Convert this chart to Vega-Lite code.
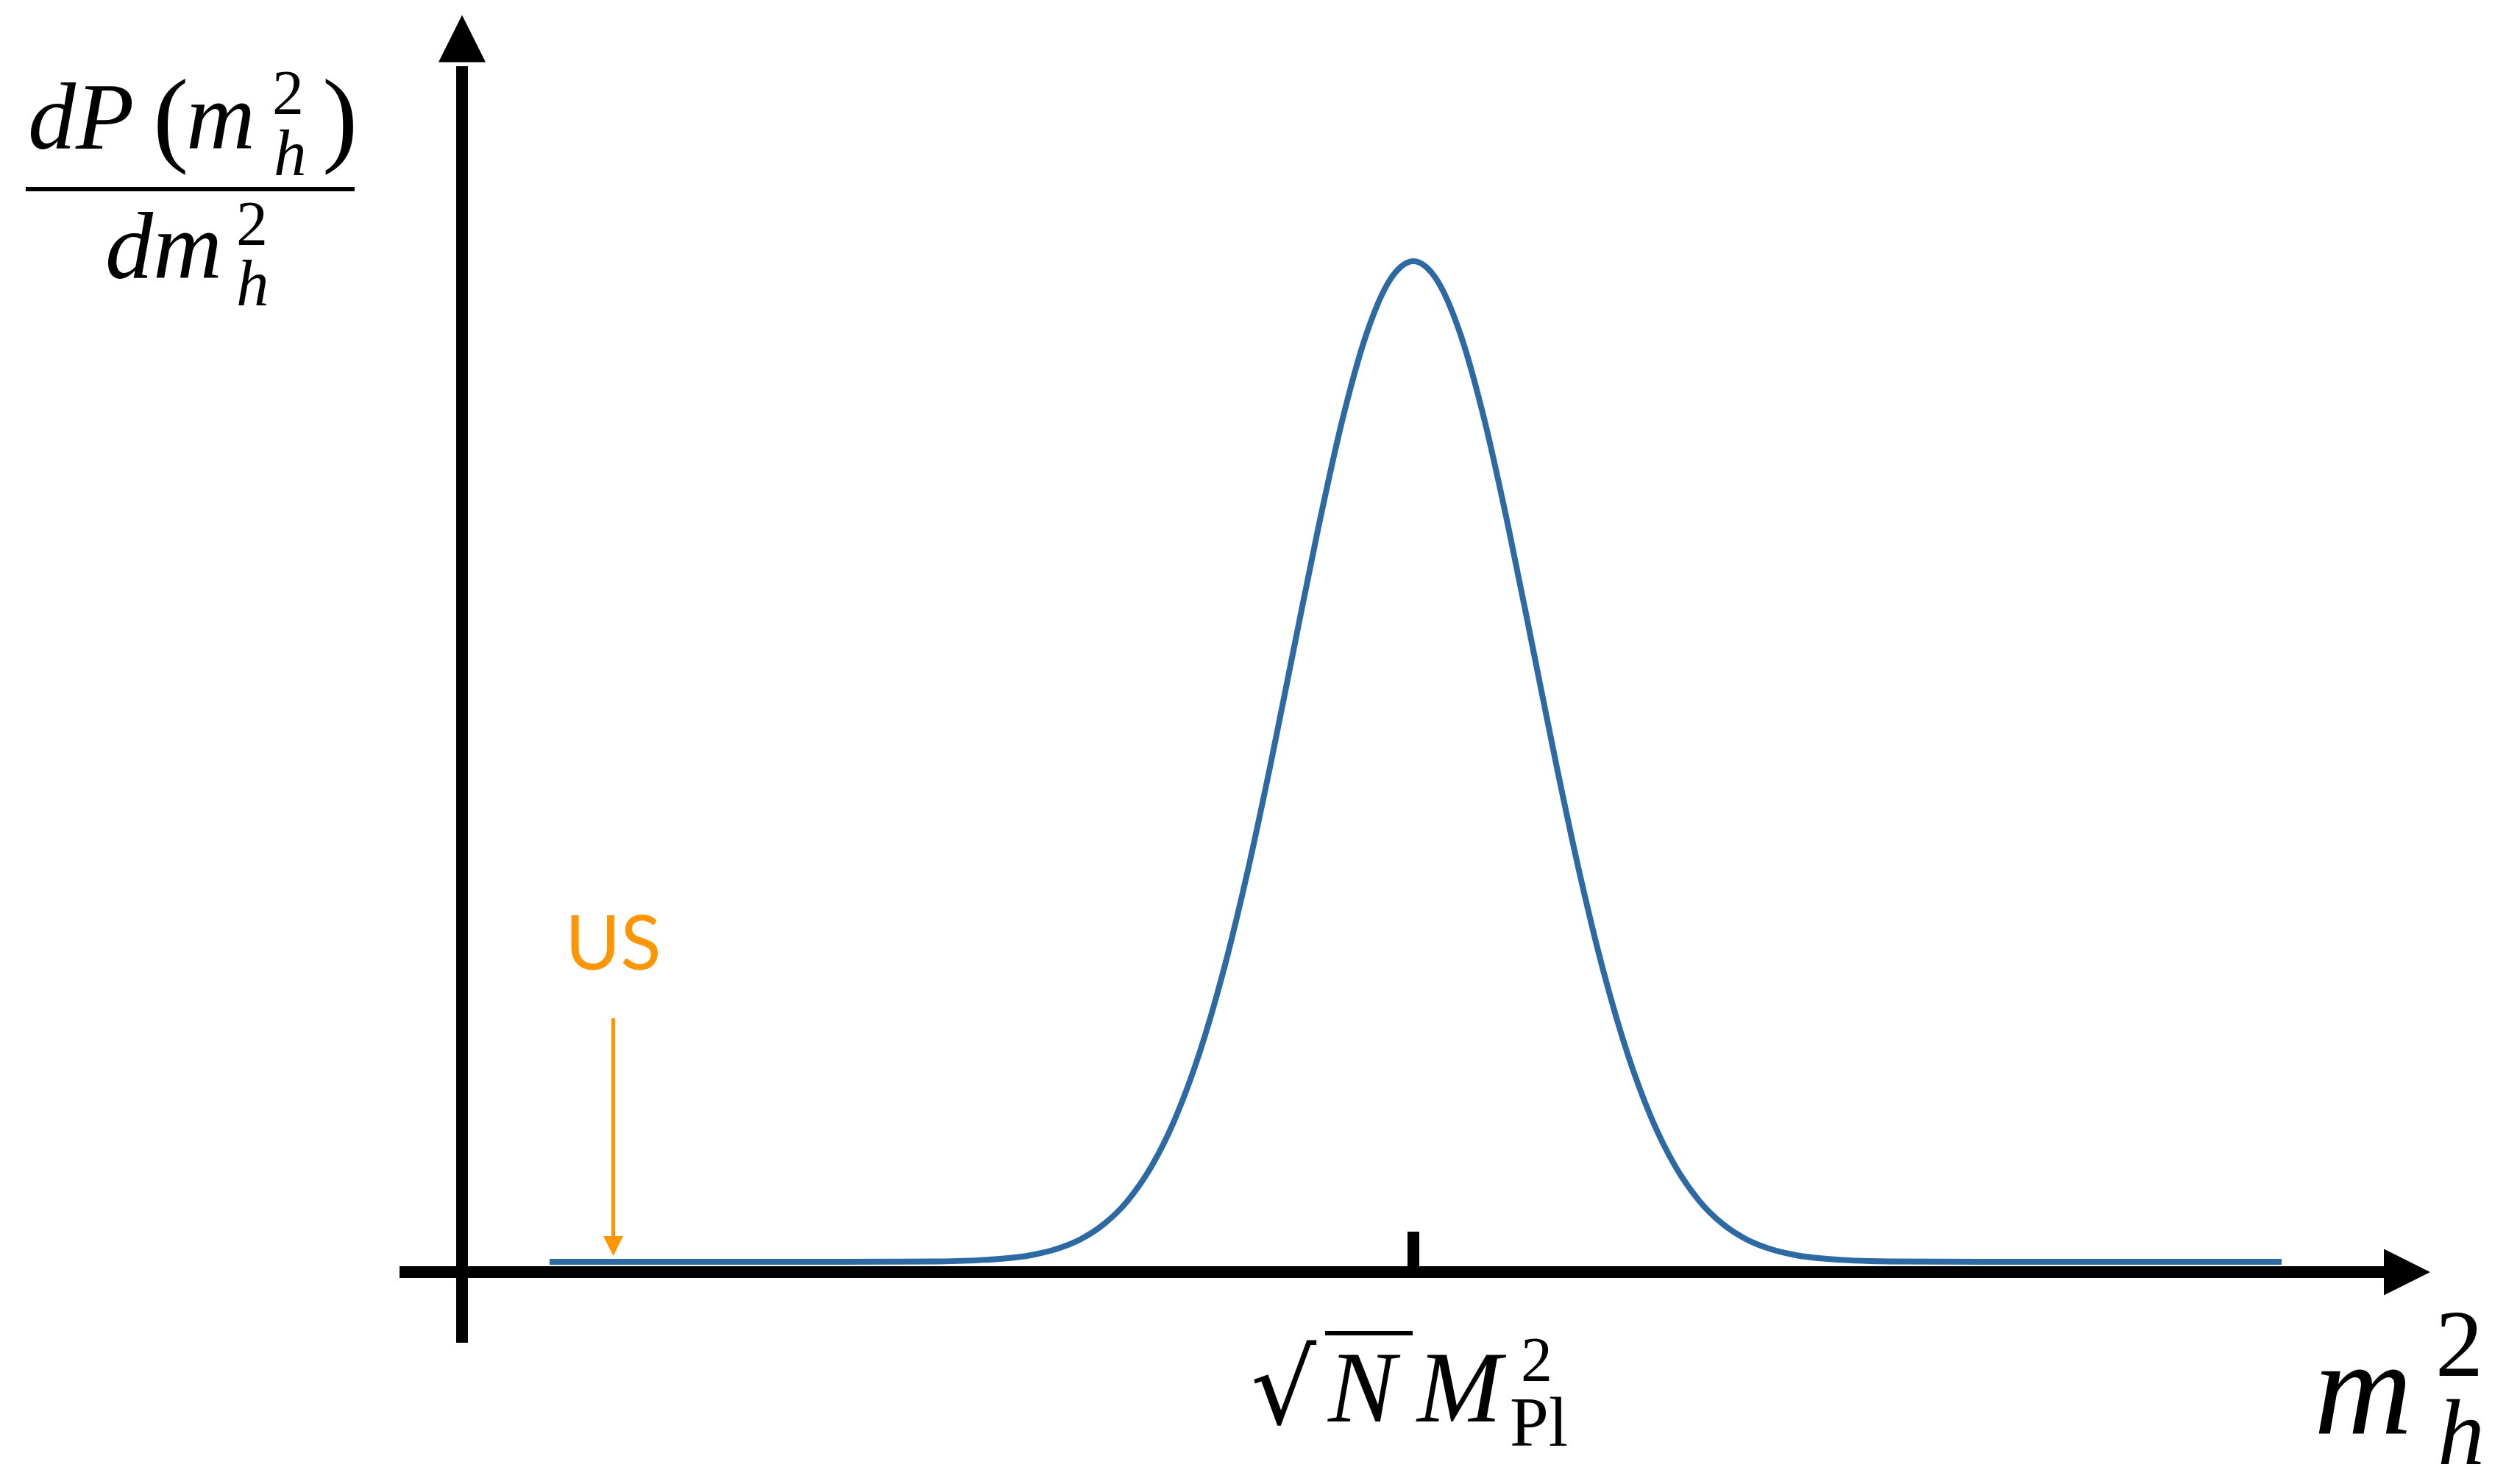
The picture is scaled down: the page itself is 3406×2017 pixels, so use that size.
{
  "$schema": "https://vega.github.io/schema/vega-lite/v6.json",
  "width": 3406,
  "height": 2017,
  "autosize": {"type": "none"},
  "padding": 0,
  "background": "#ffffff",
  "config": {"view": {"stroke": null}},
  "datasets": {
    "density": [
      {"x": 0.0920, "y": 0.0102}, {"x": 0.2, "y": 0.0102}, {"x": 0.3, "y": 0.0102},
      {"x": 0.4, "y": 0.0102}, {"x": 0.45, "y": 0.0103}, {"x": 0.5, "y": 0.0106},
      {"x": 0.55, "y": 0.0121}, {"x": 0.6, "y": 0.0171}, {"x": 0.625, "y": 0.0229},
      {"x": 0.65, "y": 0.0324}, {"x": 0.675, "y": 0.0477}, {"x": 0.7, "y": 0.0710},
      {"x": 0.725, "y": 0.1051}, {"x": 0.75, "y": 0.1528}, {"x": 0.775, "y": 0.2163},
      {"x": 0.8, "y": 0.2967}, {"x": 0.825, "y": 0.3933}, {"x": 0.85, "y": 0.5029},
      {"x": 0.875, "y": 0.6200}, {"x": 0.9, "y": 0.7361}, {"x": 0.925, "y": 0.8417},
      {"x": 0.95, "y": 0.9262}, {"x": 0.975, "y": 0.9810}, {"x": 0.9875, "y": 0.9950},
      {"x": 1.0, "y": 1.0},
      {"x": 1.0125, "y": 0.9950}, {"x": 1.025, "y": 0.9810}, {"x": 1.05, "y": 0.9262},
      {"x": 1.075, "y": 0.8417}, {"x": 1.1, "y": 0.7361}, {"x": 1.125, "y": 0.6200},
      {"x": 1.15, "y": 0.5029}, {"x": 1.175, "y": 0.3933}, {"x": 1.2, "y": 0.2967},
      {"x": 1.225, "y": 0.2163}, {"x": 1.25, "y": 0.1528}, {"x": 1.275, "y": 0.1051},
      {"x": 1.3, "y": 0.0710}, {"x": 1.325, "y": 0.0477}, {"x": 1.35, "y": 0.0324},
      {"x": 1.375, "y": 0.0229}, {"x": 1.4, "y": 0.0171}, {"x": 1.45, "y": 0.0121},
      {"x": 1.5, "y": 0.0106}, {"x": 1.55, "y": 0.0103}, {"x": 1.6, "y": 0.0102},
      {"x": 1.7, "y": 0.0102}, {"x": 1.8, "y": 0.0102}, {"x": 1.9126, "y": 0.0102}
    ],
    "verticalStrokes": [
      {"x": 0, "y": -0.06987, "y2": 1.19287},
      {"x": 1, "y": 0.04003, "y2": -0.00582}
    ],
    "xAxisStroke": [{"x": -0.06574, "x2": 2.02397, "y": 0}],
    "yArrowHead": [{"x": 0, "y": 1.22016}],
    "xArrowHead": [{"x": 2.04447, "y": 0}],
    "fractionBars": [
      {"x": -0.45862, "x2": -0.11292, "y": 1.07132},
      {"x": 0.90719, "x2": 0.99923, "y": -0.06041}
    ],
    "usShaft": [{"x": 0.15893, "y": 0.25109, "y2": 0.03348}],
    "usHead": [{"x": 0.15893, "y": 0.02584}],
    "usLabel": [{"x": 0.15893, "y": 0.29913, "t": "US"}],
    "fracItalic": [
      {"x": -0.45630, "y": 1.11135, "t": "dP"},
      {"x": -0.29002, "y": 1.11135, "t": "m"},
      {"x": -0.37510, "y": 0.98326, "t": "dm"}
    ],
    "fracParens": [
      {"x": -0.32483, "y": 1.10771, "t": "("},
      {"x": -0.14695, "y": 1.10771, "t": ")"}
    ],
    "scriptDigits": [
      {"x": -0.19954, "y": 1.14556, "t": "2"},
      {"x": -0.23743, "y": 1.01601, "t": "2"},
      {"x": 1.11292, "y": -0.10771, "t": "2"}
    ],
    "scriptItalic": [
      {"x": -0.19799, "y": 1.08515, "t": "h"},
      {"x": -0.23743, "y": 0.95633, "t": "h"}
    ],
    "tickItalic": [
      {"x": 0.91029, "y": -0.14774, "t": "N"},
      {"x": 1.00387, "y": -0.14774, "t": "M"}
    ],
    "tickUpright": [{"x": 1.10131, "y": -0.17176, "t": "Pl"}],
    "radical": [{"x": 0.82908, "y": -0.14993, "t": "√"}],
    "axisMain": [{"x": 1.94664, "y": -0.15939, "t": "m"}],
    "axisSup": [{"x": 2.07425, "y": -0.10262, "t": "2"}],
    "axisSub": [{"x": 2.07657, "y": -0.18996, "t": "h"}]
  },
  "encoding": {
    "x": {
      "field": "x",
      "type": "quantitative",
      "scale": {"domain": [-0.485692, 2.148492], "nice": false, "zero": false},
      "axis": null
    },
    "y": {
      "field": "y",
      "type": "quantitative",
      "scale": {"domain": [-0.209607, 1.25837], "nice": false, "zero": false},
      "axis": null
    }
  },
  "layer": [
    {
      "data": {"name": "verticalStrokes"},
      "mark": {"type": "rule", "color": "#000000", "strokeWidth": 16, "strokeCap": "butt"},
      "encoding": {"y2": {"field": "y2"}}
    },
    {
      "data": {"name": "xAxisStroke"},
      "mark": {"type": "rule", "color": "#000000", "strokeWidth": 16, "strokeCap": "butt"},
      "encoding": {"x2": {"field": "x2"}}
    },
    {
      "data": {"name": "yArrowHead"},
      "mark": {"type": "point", "shape": "M0,-1L-1,1L1,1Z", "size": 4096, "filled": true, "color": "#000000", "opacity": 1, "strokeWidth": 0}
    },
    {
      "data": {"name": "xArrowHead"},
      "mark": {"type": "point", "shape": "M1,0L-1,-1L-1,1Z", "size": 3969, "filled": true, "color": "#000000", "opacity": 1, "strokeWidth": 0}
    },
    {
      "data": {"name": "density"},
      "mark": {"type": "line", "color": "#2d6aa3", "strokeWidth": 8, "interpolate": "monotone"}
    },
    {
      "data": {"name": "usShaft"},
      "mark": {"type": "rule", "color": "#ff9500", "strokeWidth": 5, "strokeCap": "butt"},
      "encoding": {"y2": {"field": "y2"}}
    },
    {
      "data": {"name": "usHead"},
      "mark": {"type": "point", "shape": "M0,1L-1,-1L1,-1Z", "size": 729, "filled": true, "color": "#ff9500", "opacity": 1, "strokeWidth": 0}
    },
    {
      "data": {"name": "usLabel"},
      "mark": {"type": "text", "font": "Lato", "fontSize": 102, "align": "center", "baseline": "alphabetic", "color": "#ff9500"},
      "encoding": {"text": {"field": "t"}}
    },
    {
      "data": {"name": "fractionBars"},
      "mark": {"type": "rule", "color": "#000000", "strokeWidth": 6, "strokeCap": "butt"},
      "encoding": {"x2": {"field": "x2"}}
    },
    {
      "data": {"name": "fracItalic"},
      "mark": {"type": "text", "font": "Liberation Serif", "fontStyle": "italic", "fontSize": 130, "align": "left", "baseline": "alphabetic", "color": "#000000"},
      "encoding": {"text": {"field": "t"}}
    },
    {
      "data": {"name": "fracParens"},
      "mark": {"type": "text", "font": "Liberation Serif", "fontSize": 145, "align": "left", "baseline": "alphabetic", "color": "#000000"},
      "encoding": {"text": {"field": "t"}}
    },
    {
      "data": {"name": "scriptDigits"},
      "mark": {"type": "text", "font": "Liberation Serif", "fontSize": 86, "align": "left", "baseline": "alphabetic", "color": "#000000"},
      "encoding": {"text": {"field": "t"}}
    },
    {
      "data": {"name": "scriptItalic"},
      "mark": {"type": "text", "font": "Liberation Serif", "fontStyle": "italic", "fontSize": 89, "align": "left", "baseline": "alphabetic", "color": "#000000"},
      "encoding": {"text": {"field": "t"}}
    },
    {
      "data": {"name": "tickItalic"},
      "mark": {"type": "text", "font": "Liberation Serif", "fontStyle": "italic", "fontSize": 138, "align": "left", "baseline": "alphabetic", "color": "#000000"},
      "encoding": {"text": {"field": "t"}}
    },
    {
      "data": {"name": "tickUpright"},
      "mark": {"type": "text", "font": "Liberation Serif", "fontSize": 95, "align": "left", "baseline": "alphabetic", "color": "#000000"},
      "encoding": {"text": {"field": "t"}}
    },
    {
      "data": {"name": "radical"},
      "mark": {"type": "text", "font": "DejaVu Serif", "fontSize": 140, "align": "left", "baseline": "alphabetic", "color": "#000000"},
      "encoding": {"text": {"field": "t"}}
    },
    {
      "data": {"name": "axisMain"},
      "mark": {"type": "text", "font": "Liberation Serif", "fontStyle": "italic", "fontSize": 185, "align": "left", "baseline": "alphabetic", "color": "#000000"},
      "encoding": {"text": {"field": "t"}}
    },
    {
      "data": {"name": "axisSup"},
      "mark": {"type": "text", "font": "Liberation Serif", "fontSize": 130, "align": "left", "baseline": "alphabetic", "color": "#000000"},
      "encoding": {"text": {"field": "t"}}
    },
    {
      "data": {"name": "axisSub"},
      "mark": {"type": "text", "font": "Liberation Serif", "fontStyle": "italic", "fontSize": 128, "align": "left", "baseline": "alphabetic", "color": "#000000"},
      "encoding": {"text": {"field": "t"}}
    }
  ]
}
